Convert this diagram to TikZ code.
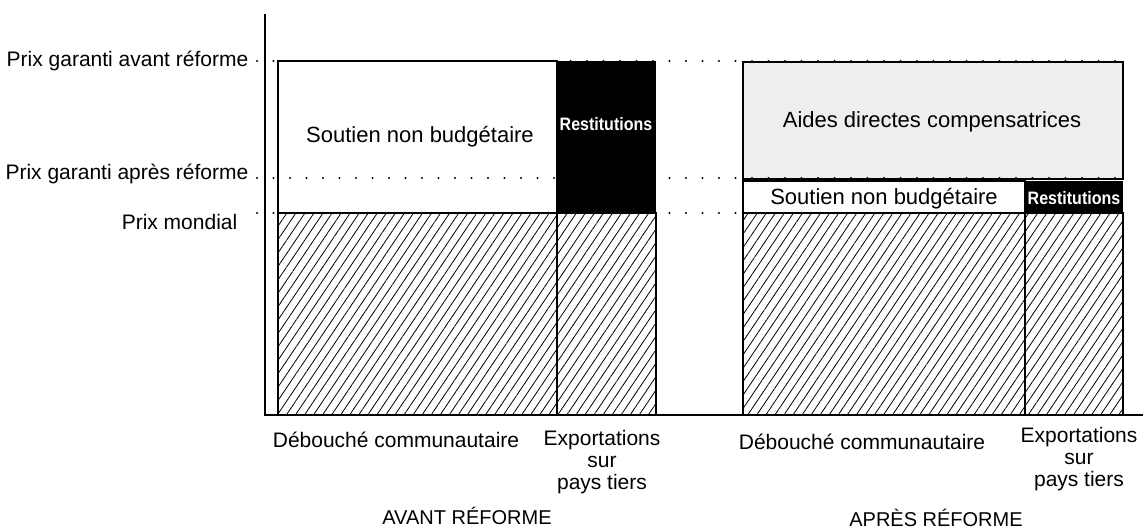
\documentclass[tikz,border=0pt]{standalone}
\usepackage{fontspec}
\setmainfont{Liberation Sans}
\usetikzlibrary{patterns.meta}

\begin{document}
\begin{tikzpicture}[x=1pt,y=-1pt,line width=1.4pt,
    hatch/.style={draw=black,pattern={Lines[angle=56,distance=7.5pt,line width=0.8pt]}},
    level/.style={line width=2.2pt,line cap=round,dash pattern=on 0pt off 16.5pt},
    lbl/.style={font=\fontsize{21}{22}\selectfont,inner sep=0pt},
    boxlbl/.style={font=\fontsize{22}{24}\selectfont,inner sep=0pt},
    resti/.style={text=white,font=\bfseries\fontsize{18}{20}\selectfont,inner sep=0pt}]
    \useasboundingbox (0,0) rectangle (1143,531);
    % axes
    \draw[line width=2.6pt] (265,14) -- (265,415) -- (1143,415);
    % avant reforme
    \draw[hatch] (278,213) rectangle (557,415);
    \draw[hatch] (557,213) rectangle (656,415);
    \draw[fill=white] (278,61) rectangle (557,213);
    % apres reforme
    \draw[hatch] (743,213) rectangle (1025,415);
    \draw[hatch] (1025,213) rectangle (1123,415);
    \draw[fill=gray!13] (743,62) rectangle (1123,179);
    \draw[fill=white] (743,181) rectangle (1025,213);
    % niveaux de prix
    \draw[level] (257,61) -- (1123,61);
    \draw[level] (257,178) -- (1127,178);
    \draw[level] (257,213) -- (1123,213);
    \fill[black] (557,61) rectangle (656,213);
    \fill[black] (1025,181) rectangle (1123,213);
    % textes
    \node[lbl,anchor=east] (pavant) at (249,61) {Prix garanti avant réforme};
    \node[lbl,anchor=east] (papres) at (249,174) {Prix garanti après réforme};
    \node[lbl,anchor=east] (pmond) at (238,222) {Prix mondial};
    \node[boxlbl] (soutav) at (420,137) {Soutien non budgétaire};
    \node[resti] (restav) at (606,124) {\scalebox{0.89}[1]{Restitutions}};
    \node[boxlbl] (aides) at (932,122) {Aides directes compensatrices};
    \node[boxlbl] (soutap) at (884,199) {Soutien non budgétaire};
    \node[resti] (restap) at (1074,198) {\scalebox{0.89}[1]{Restitutions}};
    \node[lbl] (debav) at (396,440) {Débouché communautaire};
    \node[lbl,align=center] (expav) at (602,462) {Exportations\\sur\\pays tiers};
    \node[lbl] (debap) at (862,442) {Débouché communautaire};
    \node[lbl,align=center] (expap) at (1079,459) {Exportations\\sur\\pays tiers};
    \node[lbl,font=\fontsize{20}{22}\selectfont] (avant) at (467,516) {AVANT RÉFORME};
    \node[lbl,font=\fontsize{20}{22}\selectfont] (apres) at (936,518) {APRÈS RÉFORME};
\end{tikzpicture}
\end{document}
